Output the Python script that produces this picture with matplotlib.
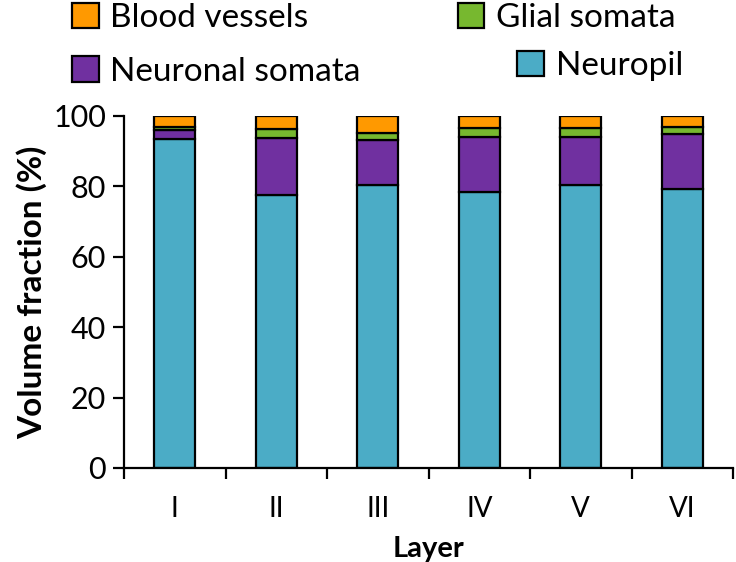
import matplotlib
matplotlib.use('Agg')
import matplotlib.pyplot as plt
import numpy as np

layers = ['I', 'II', 'III', 'IV', 'V', 'VI']
neuropil = [93.4, 77.5, 80.3, 78.3, 80.5, 79.2]
neuronal_somata = [2.6, 16.2, 12.9, 15.7, 13.5, 15.7]
glial_somata = [0.9, 2.6, 2.0, 2.6, 2.6, 2.0]
blood_vessels = [3.1, 3.7, 4.8, 3.4, 3.4, 3.1]

colors = {'Neuropil': '#4BACC6', 'Neuronal somata': '#7030A0',
          'Glial somata': '#77B82F', 'Blood vessels': '#FF9900'}

plt.rcParams['font.family'] = ['Lato', 'DejaVu Sans']

fig = plt.figure(figsize=(7.36, 5.62), dpi=100)
ax = fig.add_axes([0.1685, 0.1673, 0.8275, 0.6263])

x = np.arange(len(layers))
series = [('Neuropil', neuropil), ('Neuronal somata', neuronal_somata),
          ('Glial somata', glial_somata), ('Blood vessels', blood_vessels)]
bottom = np.zeros(len(layers))
handles = {}
for name, vals in series:
    b = ax.bar(x, vals, 0.4, bottom=bottom, color=colors[name],
               edgecolor='black', linewidth=1.6, label=name)
    handles[name] = b
    bottom += np.array(vals)

ax.set_xlim(-0.5, 5.5)
ax.set_ylim(0, 100)
ax.set_yticks([0, 20, 40, 60, 80, 100])
ax.set_xticks(x)
ax.set_xticklabels(layers)
ax.set_xticks(np.arange(-0.5, 6, 1), minor=True)
ax.tick_params(axis='x', which='major', length=0, pad=20, labelsize=20)
ax.tick_params(axis='x', which='minor', length=8, width=1.6, direction='out')
ax.tick_params(axis='y', length=8, width=1.6, labelsize=22, pad=5)
for s in ['top', 'right']:
    ax.spines[s].set_visible(False)
for s in ['left', 'bottom']:
    ax.spines[s].set_linewidth(1.6)

ax.set_ylabel('Volume fraction (%)', fontsize=24, fontweight='bold', labelpad=4)
ax.set_xlabel('Layer', fontsize=21, fontweight='bold', labelpad=10)

# legend entries placed like the original
legend_pos = {'Blood vessels': (0.098, 0.995), 'Neuronal somata': (0.098, 0.9),
              'Glial somata': (0.622, 0.995), 'Neuropil': (0.703, 0.91)}
for name, (lx, ly) in legend_pos.items():
    lg = fig.legend([handles[name]], [name], loc='upper left',
                    bbox_to_anchor=(lx, ly), frameon=False, fontsize=24,
                    handlelength=0.8, handleheight=0.8, handletextpad=0.35,
                    borderaxespad=0, borderpad=0)

fig.savefig('out.png', dpi=100)
